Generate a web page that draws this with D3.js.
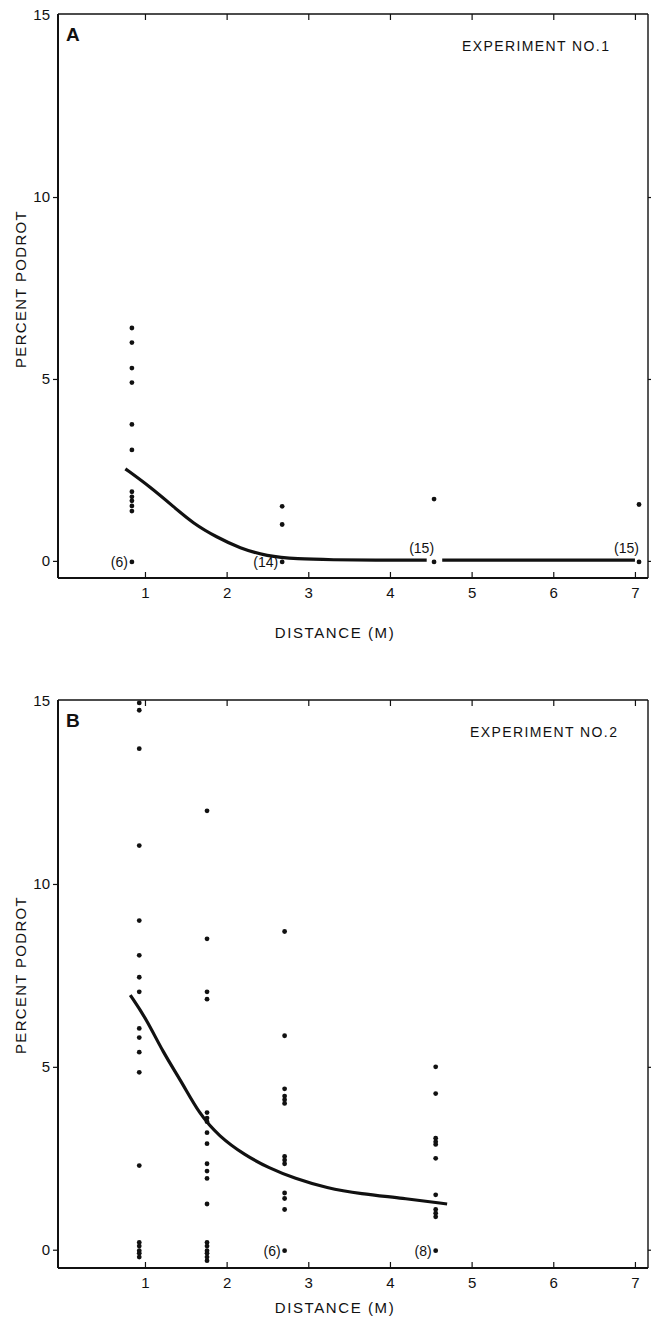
<!DOCTYPE html>
<html>
<head>
<meta charset="utf-8">
<script src="https://cdn.jsdelivr.net/npm/d3@7"></script>
<style>
  body { margin: 0; background: #fff; }
  svg text { font-family: "Liberation Sans", "DejaVu Sans", sans-serif; fill: #111; }
</style>
</head>
<body>
<svg id="chart" width="651" height="1324"></svg>
<script>
// tick values shared by both panels
const xTicks = [1, 2, 3, 4, 5, 6, 7]
const yTicks = [0, 5, 10, 15]

// Experiment 1: distance columns, percent podrot per plot, count of zero plots
const distA = [0.84, 2.68, 4.54, 7.05]
const podrotA = [
  [6.4, 6.0, 5.3, 4.9, 3.75, 3.05, 1.9, 1.76, 1.65, 1.51, 1.37, 0],
  [1.5, 1.0, 0],
  [1.7, 0],
  [1.55, 0]
]
const zerosA = ["(6)", "(14)", "(15)", "(15)"]
const fitA1 = [[0.76, 2.53], [1.06, 2.04], [1.35, 1.49], [1.59, 1.03], [1.88, 0.65], [2.16, 0.35],
               [2.49, 0.13], [2.86, 0.05], [3.3, 0.03], [3.8, 0.02], [4.45, 0.02]]
const fitA2 = [[4.64, 0.02], [7.0, 0.02]]

// Experiment 2
const distB = [0.93, 1.76, 2.71, 4.56]
const podrotB = [
  [14.95, 14.75, 13.7, 11.05, 9.0, 8.05, 7.45, 7.05, 6.05, 5.8, 5.4, 4.85, 2.3, 0.2, 0.1, 0, -0.1, -0.2],
  [12.0, 8.5, 7.05, 6.85, 3.75, 3.6, 3.5, 3.2, 2.9, 2.35, 2.15, 1.95, 1.25, 0.2, 0.1, 0, -0.1, -0.2, -0.3],
  [8.7, 5.85, 4.4, 4.2, 4.1, 4.0, 2.55, 2.45, 2.35, 1.55, 1.4, 1.1, 0],
  [5.0, 4.27, 3.05, 2.95, 2.88, 2.5, 1.5, 1.1, 1.0, 0.9, 0]
]
const zerosB = [null, null, "(6)", "(8)"]
const fitB = [[0.82, 6.96], [1.02, 6.3], [1.22, 5.4], [1.46, 4.55], [1.66, 3.73], [1.91, 3.09],
              [2.22, 2.59], [2.52, 2.23], [2.83, 1.95], [3.23, 1.68], [3.64, 1.53], [4.15, 1.41], [4.7, 1.25]]

const svg = d3.select("#chart")

function drawPanel(p){
  const g = svg.append("g")
  const x = d3.scaleLinear().domain([-0.065, 7.16]).range([58, 648])
  const y = d3.scaleLinear().domain([p.ymin, 15.03]).range([p.bottom, p.top])

  // frame: left + bottom heavy, top + right lighter
  g.append("line").attr("x1", 58).attr("x2", 58).attr("y1", p.top).attr("y2", p.bottom)
    .attr("stroke", "#111").attr("stroke-width", 2)
  g.append("line").attr("x1", 58).attr("x2", 648).attr("y1", p.bottom).attr("y2", p.bottom)
    .attr("stroke", "#111").attr("stroke-width", 2)
  g.append("line").attr("x1", 58).attr("x2", 648).attr("y1", p.top).attr("y2", p.top)
    .attr("stroke", "#111").attr("stroke-width", 1.6)
  g.append("line").attr("x1", 648).attr("x2", 648).attr("y1", p.top).attr("y2", p.bottom)
    .attr("stroke", "#111").attr("stroke-width", 1.4)

  // bottom axis, ticks pointing in
  const xb = g.append("g").attr("transform", `translate(0,${p.bottom})`)
    .call(d3.axisBottom(x).tickValues(xTicks).tickSize(-6).tickPadding(9).tickFormat(d3.format("d")))
  xb.select(".domain").remove()
  // top axis, ticks pointing in
  const xt = g.append("g").attr("transform", `translate(0,${p.top})`)
    .call(d3.axisTop(x).tickValues(xTicks).tickSize(-6).tickFormat(""))
  xt.select(".domain").remove()
  // left axis, ticks out
  const yl = g.append("g").attr("transform", "translate(58,0)")
    .call(d3.axisLeft(y).tickValues(yTicks).tickSize(5).tickPadding(3).tickFormat(d3.format("d")))
  yl.select(".domain").remove()
  yl.select(".tick:last-of-type line").remove()
  // right axis, ticks out
  const yr = g.append("g").attr("transform", "translate(648,0)")
    .call(d3.axisRight(y).tickValues(p.rightTicks).tickSize(4).tickFormat(""))
  yr.select(".domain").remove()

  g.selectAll(".tick line").attr("stroke", "#111").attr("stroke-width", 1.2)
  g.selectAll(".tick text").attr("font-size", 15).attr("fill", "#111")
    .style("font-family", "'Liberation Sans', 'DejaVu Sans', sans-serif")

  // fitted curves
  const line = d3.line().x(d => x(d[0])).y(d => y(d[1])).curve(d3.curveBasis)
  p.fits.forEach(f => {
    g.append("path").attr("d", line(f)).attr("fill", "none")
      .attr("stroke", "#111").attr("stroke-width", 3.2).attr("stroke-linecap", "butt")
  })

  // plot dots
  const pts = []
  p.dist.forEach((d, i) => p.vals[i].forEach(v => pts.push([d, v])))
  g.selectAll("circle.pt").data(pts).enter().append("circle")
    .attr("class", "pt")
    .attr("cx", d => x(d[0])).attr("cy", d => y(d[1]) + (d[1] == 0 ? 1 : 0))
    .attr("r", 2.4).attr("fill", "#111")

  // counts of zero-rot plots
  p.dist.forEach((d, i) => {
    const lab = p.zeros[i]
    if(!lab) return
    const above = p.above && p.above[i]
    g.append("text")
      .attr("x", x(d) - (above ? 0 : 4))
      .attr("y", y(0) + (above ? -8 : 6))
      .attr("text-anchor", "end")
      .attr("font-size", 14)
      .text(lab)
  })

  // panel letter + title
  g.append("text").attr("x", 66).attr("y", p.top + 27)
    .attr("font-size", 19).attr("font-weight", "bold")
    .style("font-family", "'Liberation Sans Narrow', 'Liberation Sans', sans-serif")
    .text(p.letter)
  g.append("text").attr("x", p.titleX).attr("y", p.top + 37)
    .attr("font-size", 14).attr("letter-spacing", 1.4)
    .text(p.title)

  // axis titles
  g.append("text").attr("x", 335).attr("y", p.bottom + p.xLabelDy)
    .attr("text-anchor", "middle").attr("font-size", 15).attr("letter-spacing", 1.6)
    .text("DISTANCE  (M)")
  g.append("text")
    .attr("transform", `translate(26,${p.labelY}) rotate(-90)`)
    .attr("text-anchor", "middle").attr("font-size", 15).attr("letter-spacing", 1.3)
    .text("PERCENT  PODROT")
}

drawPanel({
  top: 14, bottom: 578, ymin: -0.47, letter: "A", title: "EXPERIMENT  NO.1", titleX: 462,
  dist: distA, vals: podrotA, zeros: zerosA, above: [false, false, true, true],
  fits: [fitA1, fitA2], rightTicks: [0, 5, 10], labelY: 289, xLabelDy: 60
})

drawPanel({
  top: 700, bottom: 1268, ymin: -0.5, letter: "B", title: "EXPERIMENT  NO.2", titleX: 470,
  dist: distB, vals: podrotB, zeros: zerosB, above: null,
  fits: [fitB], rightTicks: [0, 5], labelY: 975, xLabelDy: 45
})
</script>
</body>
</html>
